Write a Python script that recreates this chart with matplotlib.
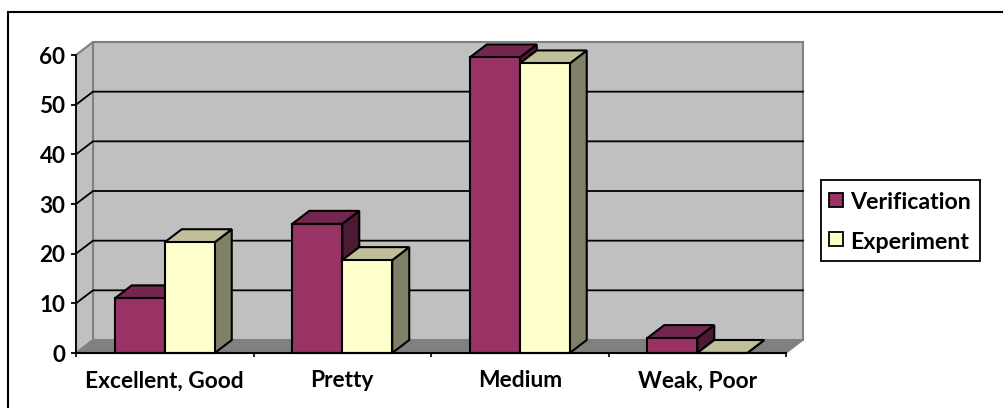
import matplotlib
matplotlib.use("Agg")
import matplotlib.pyplot as plt
from matplotlib.lines import Line2D
from matplotlib.patches import Polygon, Rectangle

categories = ["Excellent, Good", "Pretty", "Medium", "Weak, Poor"]
verification = [11, 26, 59.5, 3]
experiment = [22.3, 18.7, 58.3, 0]
y_ticks = [0, 10, 20, 30, 40, 50, 60]

W, H = 1004, 408
plt.rcParams["font.family"] = ["Lato", "DejaVu Sans"]
plt.rcParams["font.weight"] = "bold"

fig = plt.figure(figsize=(W / 100, H / 100), dpi=100)
# front plane of the fake 3d box, in pixels
left, right, bottom, top = 76, 786, 353, 55
ax = fig.add_axes([left / W, 1 - bottom / H, (right - left) / W, (bottom - top) / H])
ax.set_xlim(0, 4)
ax.set_ylim(0, 60)
ax.patch.set_visible(False)

# depth of the box in data units
dx = 17 / ((right - left) / 4)
dy = 13 / ((bottom - top) / 60)
bar_w = 50 / ((right - left) / 4)


def poly(points, face, edge="black", lw=1.5, z=3):
    ax.add_patch(Polygon(points, closed=True, facecolor=face, edgecolor=edge, linewidth=lw,
                         joinstyle="miter", clip_on=False, zorder=z))


# walls and floor
poly([(dx, dy), (4 + dx, dy), (4 + dx, 60 + dy), (dx, 60 + dy)], "#c0c0c0", "#808080", 1.5, 1)
poly([(0, 0), (dx, dy), (dx, 60 + dy), (0, 60)], "#c0c0c0", "#808080", 1.5, 1)
poly([(0, 0), (4, 0), (4 + dx, dy), (dx, dy)], "#808080", "#808080", 1.0, 1)

# gridlines run along the side wall and the back wall
for v in y_ticks[1:-1]:
    ax.plot([0, dx, 4 + dx], [v, v + dy, v + dy], color="black", lw=1.3, clip_on=False, zorder=2,
            solid_joinstyle="miter")


def bar3d(x, v, front, side, top_c, z):
    poly([(x + bar_w, 0), (x + bar_w + dx, dy), (x + bar_w + dx, v + dy), (x + bar_w, v)], side, z=z)
    poly([(x, v), (x + dx, v + dy), (x + bar_w + dx, v + dy), (x + bar_w, v)], top_c, z=z)
    poly([(x, 0), (x + bar_w, 0), (x + bar_w, v), (x, v)], front, z=z)


for i in range(len(categories)):
    bar3d(i + 0.5 - bar_w, verification[i], "#993366", "#4d1a33", "#732650", 3 + i)
    bar3d(i + 0.5, experiment[i], "#ffffcc", "#808066", "#bfbf99", 3 + i)

for name in ["top", "right"]:
    ax.spines[name].set_visible(False)
ax.spines["left"].set_linewidth(1.3)
ax.spines["bottom"].set_linewidth(1.5)
ax.spines["left"].set_zorder(20)
ax.spines["bottom"].set_zorder(20)

ax.set_yticks(y_ticks)
ax.tick_params(axis="y", length=3.6, width=1.3, labelsize=16.2, pad=4)
ax.set_xticks(range(5))
ax.set_xticklabels([])
ax.tick_params(axis="x", which="major", length=3.2, width=1.2)
ax.set_xticks([i + 0.5 for i in range(4)], categories, minor=True)
ax.tick_params(axis="x", which="minor", length=0, labelsize=16.4, pad=12.5)

# legend box by hand so the swatches match
legend_ax = fig.add_axes([820.5 / W, 1 - 260.5 / H, 160 / W, 81 / H])
legend_ax.set_xlim(0, 160)
legend_ax.set_ylim(81, 0)
legend_ax.set_xticks([])
legend_ax.set_yticks([])
for s in legend_ax.spines.values():
    s.set_linewidth(1.3)
legend_ax.add_patch(Rectangle((8, 13), 14, 14, facecolor="#993366", edgecolor="black", lw=1.3))
legend_ax.add_patch(Rectangle((8, 53), 14, 14, facecolor="#ffffcc", edgecolor="black", lw=1.3))
legend_ax.text(30, 23, "Verification", fontsize=16.7, va="center")
legend_ax.text(30, 63, "Experiment", fontsize=16.7, va="center")

# outer frame only has a top and a left edge
frame_x, frame_y = 8 / W, 1 - 12 / H
fig.add_artist(Line2D([frame_x, frame_x, 1], [0, frame_y, frame_y], transform=fig.transFigure,
                      color="black", linewidth=1.5, solid_joinstyle="miter"))

fig.savefig("out.png", dpi=100)
